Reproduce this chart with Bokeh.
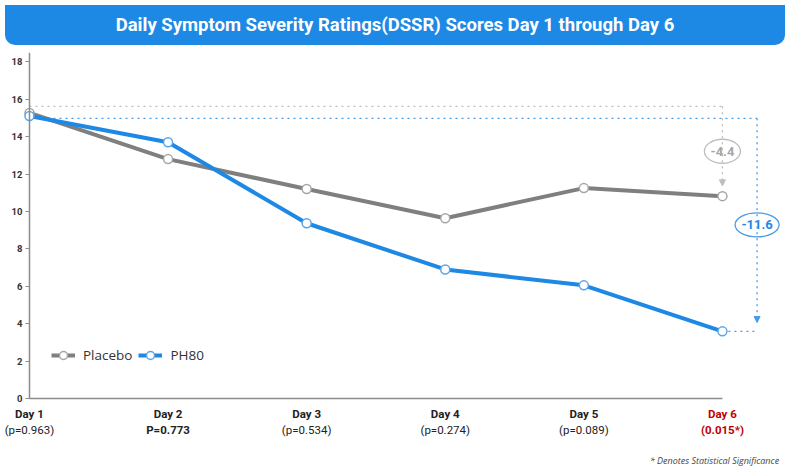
from bokeh.plotting import figure
from bokeh.models import (ColumnDataSource, Div, FixedTicker, Arrow, NormalHead, Range1d, LinearAxis)
from bokeh.layouts import column
from bokeh.core.properties import value
from bokeh.embed import file_html
from bokeh.resources import INLINE

# ---- data ----
days = ["Day 1", "Day 2", "Day 3", "Day 4", "Day 5", "Day 6"]
p_values = ["(p=0.963)", "P=0.773", "(p=0.534)", "(p=0.274)", "(p=0.089)", "(0.015*)"]
placebo = [15.27, 12.8, 11.2, 9.64, 11.25, 10.82]
ph80 = [15.1, 13.7, 9.37, 6.9, 6.05, 3.59]
changes = ["-4.4", "-11.6"]
y_ticks = [0, 2, 4, 6, 8, 10, 12, 14, 16, 18]
title_text = "Daily Symptom Severity Ratings(DSSR) Scores Day 1 through Day 6"
footnote = "* Denotes Statistical Significance"

BLUE = "#1E88E5"
GRAY = "#7F7F7F"
RED = "#C00000"

xs = list(range(len(days)))
last = len(days) - 1

W = 780
banner = Div(
    text=f'<div style="width:{W}px;height:40px;background:{BLUE};border-radius:0 0 10px 10px;'
         f'color:white;font-family:Roboto;font-weight:bold;font-size:18.5px;'
         f'display:flex;align-items:center;justify-content:center;">{title_text}</div>',
    width=W, height=40)

x_start, x_end = -0.209, 5.419
y_top = 18.5
p = figure(width=W, height=419, output_backend="svg", toolbar_location=None,
           x_range=Range1d(x_start, x_end), y_range=Range1d(-3.69, y_top),
           x_axis_location=None, y_axis_location=None,
           min_border_left=0, min_border_right=0, min_border_top=2, min_border_bottom=2)
p.outline_line_color = None
p.xgrid.grid_line_color = None
p.ygrid.grid_line_color = None

# y axis placed at x = 0 (Day 1)
yax = LinearAxis(fixed_location=0, bounds=(0, y_top), ticker=FixedTicker(ticks=y_ticks))
yax.major_tick_out = 4
yax.major_tick_in = 0
yax.minor_tick_line_color = None
yax.major_label_standoff = 3
yax.major_label_text_font = "Roboto"
yax.major_label_text_font_style = "bold"
yax.major_label_text_font_size = "9.5px"
yax.major_label_text_color = "#333333"
yax.axis_line_color = "#8C8C8C"
yax.axis_line_width = 1.5
yax.major_tick_line_color = "#8C8C8C"
p.add_layout(yax, "left")

# x axis baseline
p.segment(x0=[0], y0=[0], x1=[last], y1=[0], line_color="#8C8C8C", line_width=1.5)

# x labels
lab_src = ColumnDataSource(dict(
    x=xs, day=days, pv=p_values,
    color=["#222222"] * last + [RED],
    pstyle=["normal", "bold", "normal", "normal", "normal", "bold"],
))
p.text(x="x", y=-0.84, text="day", source=lab_src, text_align="center",
       text_baseline="middle", text_font=value("Roboto"), text_font_style="bold",
       text_font_size="11.5px", text_color="color")
p.text(x="x", y=-1.66, text="pv", source=lab_src, text_align="center",
       text_baseline="middle", text_font=value("Roboto"), text_font_style="pstyle",
       text_font_size="11.5px", text_color="color")
p.text(x=[x_end - 0.01], y=[-3.31], text=[footnote], text_align="right", text_baseline="middle",
       text_font=value("Open Sans"), text_font_style="italic", text_font_size="9px",
       text_color="#444444")

# change annotations (dotted brackets)
g_top = placebo[0] + 0.35
b_top = ph80[0] - 0.12
b_x = last + 0.25
p.segment(x0=[0], y0=[g_top], x1=[last], y1=[g_top], line_color="#BDBDBD",
          line_dash="dotted", line_width=1.3)
p.add_layout(Arrow(end=NormalHead(size=6, fill_color="#BDBDBD", line_color="#BDBDBD"),
                   x_start=last, y_start=g_top, x_end=last, y_end=placebo[last] + 0.55,
                   line_color="#BDBDBD", line_dash="dotted", line_width=1.3))
p.segment(x0=[0, last], y0=[b_top, ph80[last]], x1=[b_x, b_x], y1=[b_top, ph80[last]],
          line_color="#4A9BE8", line_dash="dotted", line_width=1.3)
p.add_layout(Arrow(end=NormalHead(size=6, fill_color="#4A9BE8", line_color="#4A9BE8"),
                   x_start=b_x, y_start=b_top, x_end=b_x, y_end=ph80[last] + 0.47,
                   line_color="#4A9BE8", line_dash="dotted", line_width=1.3))

g_mid = (g_top + placebo[last]) / 2
b_mid = (b_top + ph80[last]) / 2
p.ellipse(x=[last], y=[g_mid], width=36, height=24, width_units="screen", height_units="screen",
          fill_color="white", line_color="#BDBDBD", line_width=1.3)
p.ellipse(x=[b_x], y=[b_mid], width=44, height=24, width_units="screen", height_units="screen",
          fill_color="white", line_color="#4A9BE8", line_width=1.3)
p.text(x=[last], y=[g_mid], text=[changes[0]], text_align="center", text_baseline="middle",
       text_font=value("Roboto"), text_font_style="bold", text_font_size="13px", text_color="#A6A6A6")
p.text(x=[b_x], y=[b_mid], text=[changes[1]], text_align="center", text_baseline="middle",
       text_font=value("Roboto"), text_font_style="bold", text_font_size="13px", text_color=BLUE)

# series
p.line(xs, placebo, line_color=GRAY, line_width=4, legend_label="Placebo")
p.scatter(xs, placebo, size=9, marker="circle", fill_color="white", line_color="#A6A6A6",
          line_width=1.5, legend_label="Placebo")
p.line(xs, ph80, line_color=BLUE, line_width=4, legend_label="PH80")
p.scatter(xs, ph80, size=9, marker="circle", fill_color="white", line_color="#5AA5EA",
          line_width=1.5, legend_label="PH80")

p.legend.orientation = "horizontal"
p.legend.location = (51, 102)
p.legend.background_fill_alpha = 0
p.legend.border_line_color = None
p.legend.label_text_font = "Open Sans"
p.legend.label_text_font_size = "13.5px"
p.legend.label_text_color = "#333333"
p.legend.glyph_width = 24
p.legend.spacing = 6
p.legend.label_standoff = 8
p.legend.padding = 4

layout = column(banner, p, spacing=0)
open("out.html", "w").write(file_html(layout, INLINE))
